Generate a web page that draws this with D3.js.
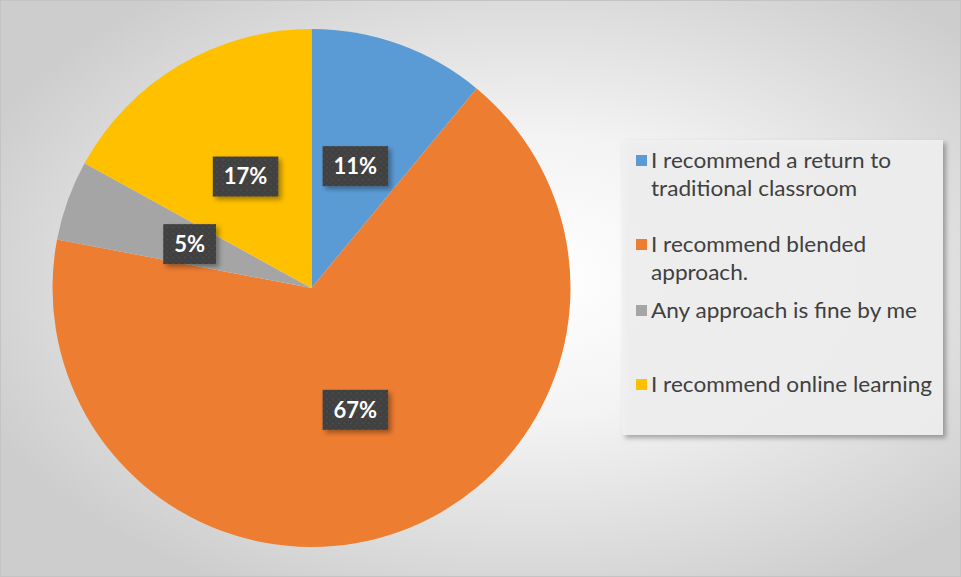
<!DOCTYPE html>
<html>
<head>
<meta charset="utf-8">
<script src="https://cdn.jsdelivr.net/npm/d3@7/dist/d3.min.js"></script>
<style>
  html, body { margin: 0; padding: 0; background: #ffffff; }
  svg { display: block; }
</style>
</head>
<body>
<script>
// Survey answers and their shares (percent)
const categories = [
  "I recommend a return to traditional classroom",
  "I recommend blended approach.",
  "Any approach is fine by me",
  "I recommend online learning"
];
const values = [11, 67, 5, 17];
const colors = ["#5b9bd5", "#ed7d31", "#a5a5a5", "#ffc000"];
// Legend entries wrapped onto lines
const legendLines = [
  ["I recommend a return to", "traditional classroom"],
  ["I recommend blended", "approach."],
  ["Any approach is fine by me"],
  ["I recommend online learning"]
];

const W = 961, H = 577;
const cx = 311.5, cy = 288, R = 259;
const FONT = "Lato, 'Open Sans', 'DejaVu Sans', sans-serif";

const svg = d3.select("body").append("svg")
  .attr("width", W).attr("height", H);

const defs = svg.append("defs");

// soft radial background
const bg = defs.append("radialGradient").attr("id", "bgGrad")
  .attr("cx", "55%").attr("cy", "48%").attr("r", "62%");
bg.append("stop").attr("offset", "0%").attr("stop-color", "#ffffff");
bg.append("stop").attr("offset", "40%").attr("stop-color", "#f3f3f3");
bg.append("stop").attr("offset", "100%").attr("stop-color", "#cdcdcd");

// textured dark fill for the value labels
const pat = defs.append("pattern").attr("id", "labelTex")
  .attr("width", 6).attr("height", 6).attr("patternUnits", "userSpaceOnUse");
pat.append("rect").attr("width", 6).attr("height", 6).attr("fill", "#3f3f3f");
pat.append("circle").attr("cx", 1.5).attr("cy", 1.5).attr("r", 1.3).attr("fill", "#4b4b4b");
pat.append("circle").attr("cx", 4.5).attr("cy", 4.5).attr("r", 1.3).attr("fill", "#474747");

const shadow = defs.append("filter").attr("id", "shadow")
  .attr("x", "-20%").attr("y", "-20%").attr("width", "150%").attr("height", "150%");
shadow.append("feDropShadow").attr("dx", 3).attr("dy", 3)
  .attr("stdDeviation", 2.5).attr("flood-color", "#000").attr("flood-opacity", 0.35);

svg.append("rect").attr("x", 0.5).attr("y", 0.5)
  .attr("width", W - 1).attr("height", H - 1)
  .attr("fill", "url(#bgGrad)").attr("stroke", "#c4c4c4");

// pie, starting at 12 o'clock, clockwise
const pie = d3.pie().sort(null).value(d => d)(values);
const arc = d3.arc().innerRadius(0).outerRadius(R);
const labelArc = d3.arc().innerRadius(R * 0.5).outerRadius(R * 0.5);

const g = svg.append("g").attr("transform", `translate(${cx},${cy})`);
g.selectAll("path.slice").data(pie).join("path")
  .attr("class", "slice")
  .attr("d", arc)
  .attr("fill", (d, i) => colors[i]);

// value labels
const lab = g.selectAll("g.lab").data(pie).join("g")
  .attr("class", "lab")
  .attr("transform", d => `translate(${labelArc.centroid(d)})`);

lab.each(function(d) {
  const sel = d3.select(this);
  const txt = sel.append("text")
    .attr("text-anchor", "middle")
    .attr("dy", "0.36em")
    .attr("font-family", FONT)
    .attr("font-weight", "bold")
    .attr("font-size", 22)
    .attr("fill", "#ffffff")
    .text(d.data + "%");
  const tw = txt.node().getComputedTextLength();
  const bw = tw + 22, bh = 40;
  sel.insert("rect", "text")
    .attr("x", -bw / 2).attr("y", -bh / 2)
    .attr("width", bw).attr("height", bh)
    .attr("fill", "url(#labelTex)")
    .attr("filter", "url(#shadow)");
});

// legend
const lg = svg.append("g");
lg.append("rect")
  .attr("x", 622).attr("y", 140).attr("width", 321).attr("height", 295)
  .attr("fill", "#f1f1f1").attr("fill-opacity", 0.9)
  .attr("filter", "url(#shadow)");

const rowTop = [153, 237, 303, 377]; // cap-top of first line per entry
const capH = 15, lineGap = 28;
const FS = 22;

// scale lines so the longest one spans about 281px
const probe = lg.append("text").attr("font-family", FONT).attr("font-size", FS)
  .text("I recommend online learning");
const squeeze = 281 / probe.node().getComputedTextLength();
probe.remove();

legendLines.forEach((lines, i) => {
  lg.append("rect")
    .attr("x", 636).attr("y", rowTop[i] + capH / 2 - 5.5)
    .attr("width", 11).attr("height", 11)
    .attr("fill", colors[i]);
  lines.forEach((t, j) => {
    const tx = lg.append("text")
      .attr("x", 651)
      .attr("y", rowTop[i] + capH + j * lineGap)
      .attr("font-family", FONT)
      .attr("font-size", FS)
      .attr("fill", "#404040")
      .text(t);
    const len = tx.node().getComputedTextLength();
    tx.attr("textLength", len * squeeze).attr("lengthAdjust", "spacingAndGlyphs");
  });
});
</script>
</body>
</html>
